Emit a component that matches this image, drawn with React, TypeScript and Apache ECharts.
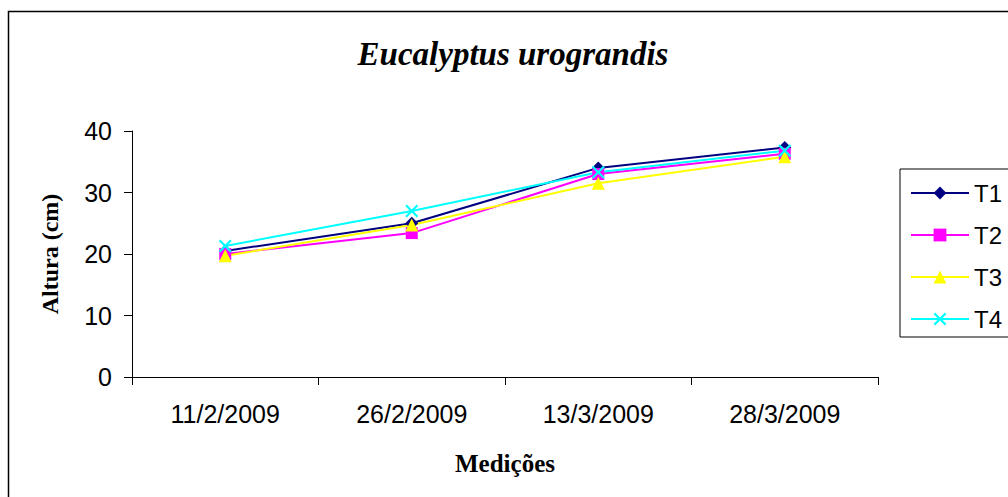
import React, { useEffect, useRef } from "react";
import * as echarts from "echarts";

const categories = ["11/2/2009", "26/2/2009", "13/3/2009", "28/3/2009"];
const seriesNames = ["T1", "T2", "T3", "T4"];
const t1 = [20.5, 25.0, 34.0, 37.3];
const t2 = [20.0, 23.4, 33.0, 36.3];
const t3 = [19.7, 24.7, 31.5, 35.8];
const t4 = [21.3, 27.0, 33.3, 36.8];
const yTicks = [0, 10, 20, 30, 40];

const colors = ["#000080", "#FF00FF", "#FFFF00", "#00FFFF"];
const crossPath =
  "path://M0,1.2 L1.2,0 L5,3.8 L8.8,0 L10,1.2 L6.2,5 L10,8.8 L8.8,10 L5,6.2 L1.2,10 L0,8.8 L3.8,5 Z";
const symbols = ["diamond", "rect", "triangle", crossPath];
const symbolSizes = [13, 12, 13, 13];

export default function App() {
  const ref = useRef<HTMLDivElement>(null);
  useEffect(() => {
    if (!ref.current) return;
    const chart = echarts.init(ref.current, null, { renderer: "svg" });
    const data = [t1, t2, t3, t4];
    const tickFont = {
      fontFamily: "'Liberation Sans', Arial, sans-serif",
      fontSize: 25,
      color: "#000",
    };
    chart.setOption({
      animation: false,
      backgroundColor: "#fff",
      title: {
        text: "Eucalyptus urograndis",
        left: 508,
        textAlign: "center",
        top: 32,
        textStyle: {
          fontFamily: "'Liberation Serif', 'Times New Roman', serif",
          fontStyle: "italic",
          fontWeight: "bold",
          fontSize: 33,
          color: "#000",
        },
      },
      graphic: [
        {
          type: "rect",
          shape: { x: 8.5, y: 11.5, width: 1010, height: 500 },
          style: { fill: "none", stroke: "#000", lineWidth: 1.5 },
          silent: true,
          z: -1,
        },
      ],
      legend: {
        orient: "vertical",
        left: 900,
        top: 169,
        padding: [12, 10, 6, 10],
        itemGap: 18,
        itemWidth: 58,
        itemHeight: 16,
        borderColor: "#000",
        borderWidth: 1,
        textStyle: { ...tickFont, fontSize: 24, lineHeight: 24, padding: [0, 0, 0, 0] },
        data: seriesNames,
      },
      grid: { left: 132, right: 130, top: 131, bottom: 120 },
      xAxis: {
        type: "category",
        data: categories,
        boundaryGap: true,
        name: "Medições",
        nameLocation: "middle",
        nameGap: 74,
        nameTextStyle: {
          fontFamily: "'Liberation Serif', 'Times New Roman', serif",
          fontWeight: "bold",
          fontSize: 25,
          color: "#000",
        },
        axisLine: { lineStyle: { color: "#000", width: 1 } },
        axisTick: { show: true, length: 8, alignWithLabel: false, lineStyle: { color: "#000" } },
        axisLabel: { ...tickFont, margin: 24 },
        splitLine: { show: false },
      },
      yAxis: {
        type: "value",
        min: yTicks[0],
        max: yTicks[yTicks.length - 1],
        interval: 10,
        name: "Altura (cm)",
        nameLocation: "middle",
        nameRotate: 90,
        nameGap: 70,
        nameTextStyle: {
          fontFamily: "'Liberation Serif', 'Times New Roman', serif",
          fontWeight: "bold",
          fontSize: 24,
          color: "#000",
        },
        axisLine: { show: true, lineStyle: { color: "#000", width: 1 } },
        axisTick: { show: true, length: 8, lineStyle: { color: "#000" } },
        axisLabel: { ...tickFont, margin: 20 },
        splitLine: { show: false },
      },
      series: seriesNames.map((name, i) => ({
        name,
        type: "line",
        data: data[i],
        symbol: symbols[i],
        symbolSize: symbolSizes[i],
        showAllSymbol: true,
        lineStyle: { color: colors[i], width: 2 },
        itemStyle: { color: colors[i], borderWidth: 0 },
        emphasis: { disabled: true },
      })),
    });
    return () => chart.dispose();
  }, []);
  return (
    <div
      ref={ref}
      style={{ position: "fixed", left: 0, top: 0, width: 1008, height: 497 }}
    />
  );
}
